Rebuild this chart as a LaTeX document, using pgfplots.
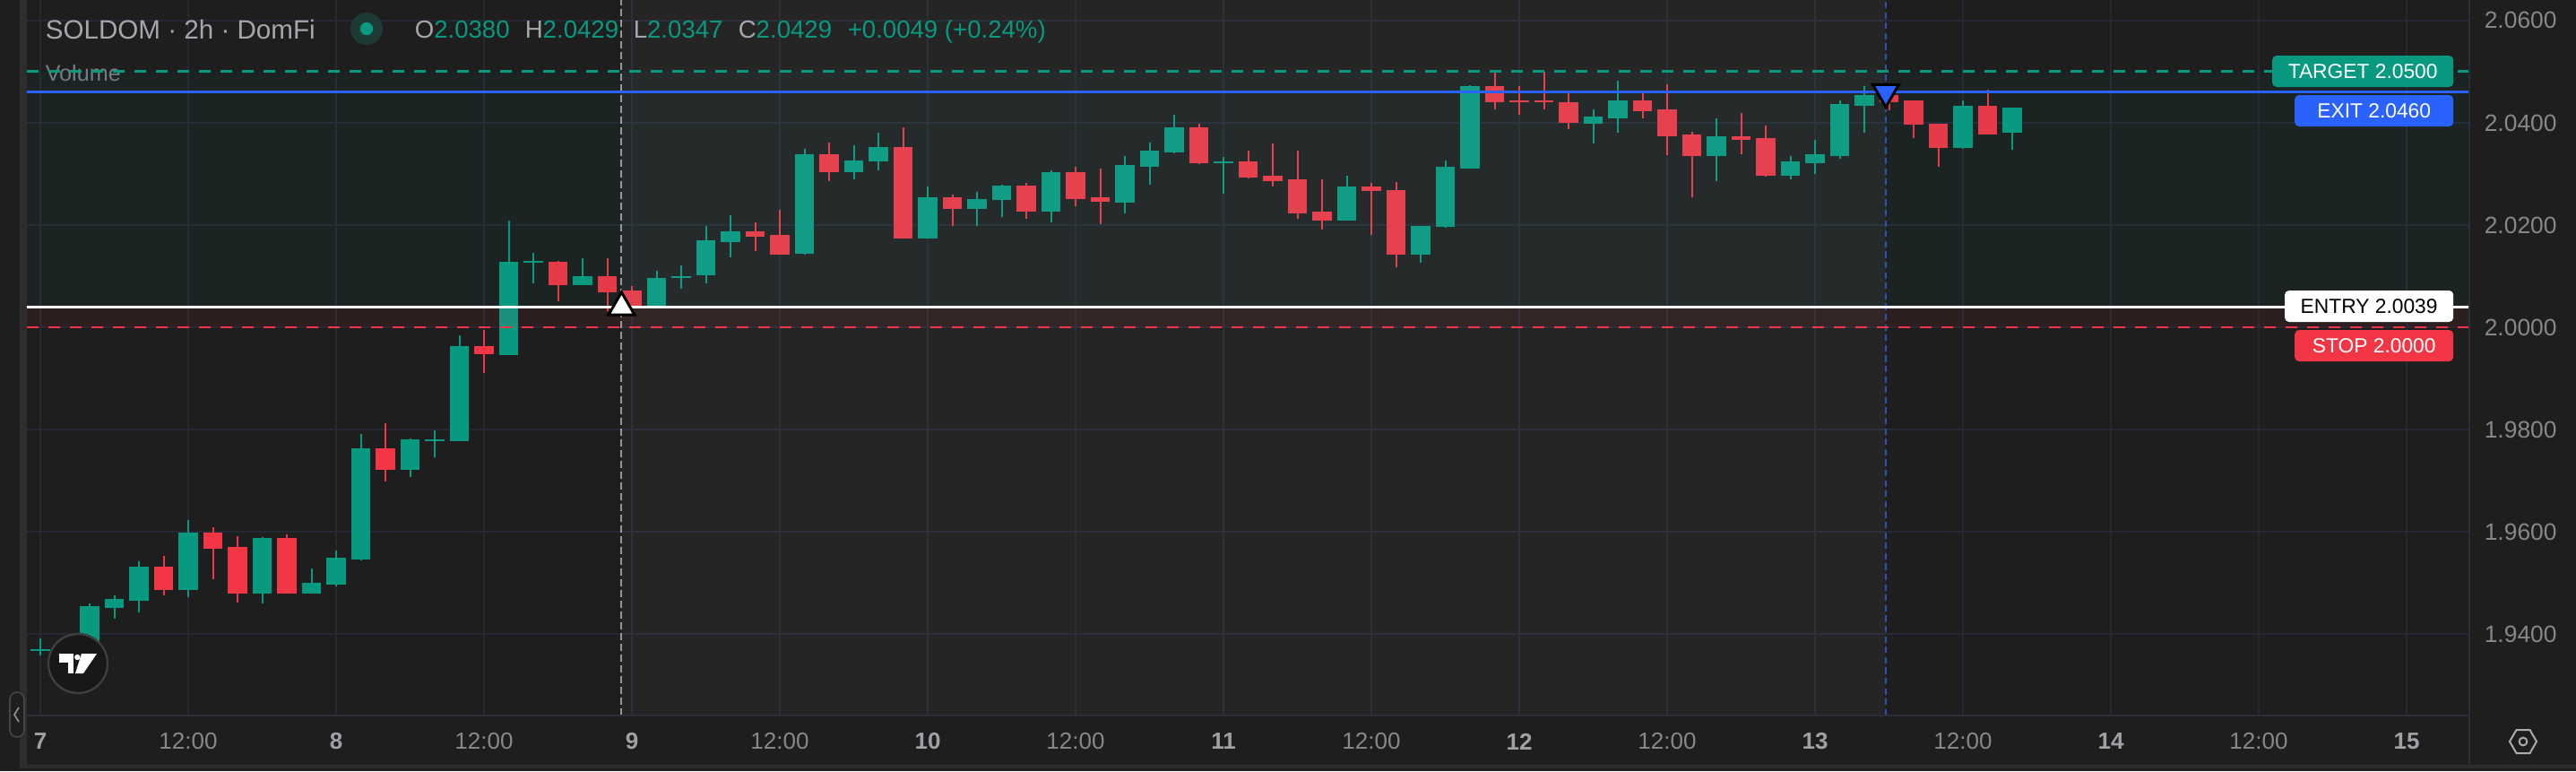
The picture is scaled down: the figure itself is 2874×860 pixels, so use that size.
\documentclass[border=0pt]{standalone}
\usepackage{fontspec}
\setmainfont{Liberation Sans}
\usepackage{pgfplots}
\pgfplotsset{compat=1.18}
\usepackage{pgfplotstable}

\definecolor{bg}{RGB}{30,30,30}
\definecolor{tvgreen}{RGB}{8,153,129}
\definecolor{tvred}{RGB}{242,54,69}
\definecolor{tvblue}{RGB}{41,98,255}
\definecolor{gridc}{RGB}{37,40,53}
\definecolor{axtext}{RGB}{135,135,140}
\definecolor{daytext}{RGB}{160,160,166}
\definecolor{hdr}{RGB}{165,167,173}
\definecolor{sepc}{RGB}{42,46,57}
\definecolor{barc}{RGB}{45,45,45}
\definecolor{vdash}{RGB}{150,150,155}
\definecolor{bdash}{RGB}{45,80,180}
\definecolor{halo}{RGB}{30,58,52}
\definecolor{voltext}{RGB}{120,123,134}
\definecolor{tabdraw}{RGB}{70,70,70}
\definecolor{tabchev}{RGB}{150,150,150}
\definecolor{logofill}{RGB}{24,24,24}
\definecolor{logoring}{RGB}{62,62,62}
\definecolor{gearc}{RGB}{170,170,175}

\pgfplotstableread{
i o h l c
0 1.9367 1.9391 1.9358 1.9370
2 1.9362 1.9460 1.9355 1.9455
3 1.9452 1.9476 1.9430 1.9469
4 1.9465 1.9542 1.9442 1.9532
6 1.9487 1.9623 1.9472 1.9598
9 1.9480 1.9589 1.9460 1.9588
11 1.9480 1.9528 1.9479 1.9500
12 1.9497 1.9563 1.9493 1.9549
13 1.9546 1.9791 1.9544 1.9763
15 1.9722 1.9782 1.9707 1.9781
16 1.9778 1.9798 1.9746 1.9781
17 1.9778 1.9984 1.9777 1.9963
19 1.9946 2.0209 1.9945 2.0128
20 2.0127 2.0146 2.0086 2.0130
22 2.0083 2.0135 2.0082 2.0100
25 2.0043 2.0110 2.0040 2.0096
26 2.0097 2.0121 2.0075 2.0100
27 2.0102 2.0198 2.0086 2.0170
28 2.0167 2.0219 2.0136 2.0188
31 2.0143 2.0349 2.0142 2.0338
33 2.0304 2.0356 2.0289 2.0327
34 2.0324 2.0380 2.0307 2.0352
36 2.0174 2.0275 2.0173 2.0254
38 2.0231 2.0264 2.0199 2.0250
39 2.0249 2.0279 2.0216 2.0278
41 2.0227 2.0307 2.0206 2.0303
44 2.0244 2.0335 2.0223 2.0317
45 2.0314 2.0362 2.0279 2.0345
46 2.0342 2.0415 2.0341 2.0391
48 2.0321 2.0334 2.0261 2.0324
53 2.0209 2.0296 2.0208 2.0275
56 2.0143 2.0199 2.0126 2.0198
57 2.0196 2.0327 2.0195 2.0314
58 2.0311 2.0473 2.0310 2.0472
63 2.0399 2.0426 2.0360 2.0412
64 2.0409 2.0482 2.0381 2.0443
68 2.0335 2.0409 2.0286 2.0373
71 2.0296 2.0335 2.0289 2.0324
72 2.0321 2.0367 2.0300 2.0338
73 2.0335 2.0444 2.0329 2.0437
74 2.0434 2.0472 2.0381 2.0454
78 2.0350 2.0444 2.0349 2.0433
80 2.0380 2.0429 2.0347 2.0429
}\greentab

\pgfplotstableread{
i o h l c
1 1.9370 1.9380 1.9350 1.9362
5 1.9532 1.9553 1.9476 1.9487
7 1.9598 1.9609 1.9507 1.9567
8 1.9570 1.9591 1.9462 1.9480
10 1.9588 1.9595 1.9479 1.9480
14 1.9763 1.9812 1.9698 1.9722
18 1.9963 1.9995 1.9911 1.9947
21 2.0128 2.0130 2.0051 2.0083
23 2.0100 2.0135 2.0032 2.0069
24 2.0072 2.0081 2.0040 2.0043
29 2.0187 2.0206 2.0149 2.0177
30 2.0180 2.0230 2.0142 2.0143
32 2.0338 2.0362 2.0286 2.0304
35 2.0352 2.0391 2.0173 2.0174
37 2.0254 2.0260 2.0199 2.0231
40 2.0278 2.0282 2.0213 2.0227
42 2.0303 2.0314 2.0237 2.0251
43 2.0254 2.0310 2.0202 2.0246
47 2.0391 2.0398 2.0320 2.0321
49 2.0324 2.0345 2.0292 2.0293
50 2.0296 2.0360 2.0276 2.0286
51 2.0289 2.0345 2.0213 2.0223
52 2.0226 2.0289 2.0192 2.0209
54 2.0275 2.0282 2.0181 2.0266
55 2.0268 2.0285 2.0118 2.0143
59 2.0472 2.0500 2.0426 2.0441
60 2.0443 2.0472 2.0416 2.0440
61 2.0443 2.0499 2.0427 2.0440
62 2.0440 2.0459 2.0388 2.0399
65 2.0443 2.0459 2.0409 2.0423
66 2.0426 2.0475 2.0336 2.0374
67 2.0377 2.0383 2.0254 2.0335
69 2.0373 2.0419 2.0339 2.0367
70 2.0370 2.0395 2.0295 2.0296
75 2.0454 2.0455 2.0424 2.0441
76 2.0443 2.0444 2.0370 2.0396
77 2.0398 2.0399 2.0314 2.0350
79 2.0433 2.0465 2.0377 2.0378
}\redtab

\pgfplotsset{candle/.style={draw=none, mark=none, forget plot, error bars/.cd, y dir=both, y explicit, error mark=none}}

\begin{document}
\begin{tikzpicture}[x=0.25pt,y=-0.25pt]
% background
\fill[bg] (0,0) rectangle (2874,860);
\coordinate (axSW) at (30,798);
% volume label (under lines)
\node[anchor=base west, inner sep=0pt, text=voltext, font=\fontsize{6.3}{7}\selectfont] at (50,90) {Volume};

\begin{axis}[
  at={(axSW)}, anchor=south west,
  scale only axis, width=681.25pt, height=199.5pt,
  xmin=-0.5455, xmax=98.545, ymin=1.92406, ymax=2.06401,
  axis line style={draw=none},
  major tick length=0pt,
  xtick={0,6,...,96},
  xticklabels={\textcolor{daytext}{\textbf{7}},12:00,\textcolor{daytext}{\textbf{8}},12:00,\textcolor{daytext}{\textbf{9}},12:00,\textcolor{daytext}{\textbf{10}},12:00,\textcolor{daytext}{\textbf{11}},12:00,\textcolor{daytext}{\textbf{12}},12:00,\textcolor{daytext}{\textbf{13}},12:00,\textcolor{daytext}{\textbf{14}},12:00,\textcolor{daytext}{\textbf{15}}},
  ytick={1.94,1.96,1.98,2.00,2.02,2.04,2.06},
  yticklabels={1.9400,1.9600,1.9800,2.0000,2.0200,2.0400,2.0600},
  yticklabel pos=right,
  grid=major, grid style={gridc, line width=0.4pt},
  xticklabel style={anchor=center, inner sep=0pt, yshift=-7.25pt, text=axtext, font=\fontsize{6.5}{7}\selectfont},
  yticklabel style={anchor=west, inner sep=0pt, xshift=4pt, text=axtext, font=\fontsize{6.6}{7}\selectfont},
]
% wicks
\addplot[candle, error bar style={draw=tvgreen, line width=0.5pt}]
  table[x=i, y expr={(\thisrow{h}+\thisrow{l})/2}, y error expr={(\thisrow{h}-\thisrow{l})/2}] {\greentab};
\addplot[candle, error bar style={draw=tvred, line width=0.5pt}]
  table[x=i, y expr={(\thisrow{h}+\thisrow{l})/2}, y error expr={(\thisrow{h}-\thisrow{l})/2}] {\redtab};
% bodies
\addplot[candle, error bar style={draw=tvgreen, line width=5.4pt}]
  table[x=i, y expr={(\thisrow{o}+\thisrow{c})/2}, y error expr={abs(\thisrow{c}-\thisrow{o})/2}] {\greentab};
\addplot[candle, error bar style={draw=tvred, line width=5.4pt}]
  table[x=i, y expr={(\thisrow{o}+\thisrow{c})/2}, y error expr={abs(\thisrow{c}-\thisrow{o})/2}] {\redtab};

% overlays
\fill[tvgreen, fill opacity=0.055] (axis cs:-0.5455,2.0039) rectangle (axis cs:98.545,2.05);
\fill[tvred, fill opacity=0.075] (axis cs:-0.5455,2.0) rectangle (axis cs:98.545,2.0039);
\fill[white, fill opacity=0.035] (axis cs:23.58,1.92406) rectangle (axis cs:74.87,2.06401);

% vertical dashed lines
\addplot[vdash, line width=0.5pt, dash pattern=on 2pt off 1pt, forget plot] coordinates {(23.58,1.92406) (23.58,2.06401)};
\addplot[bdash, line width=0.5pt, dash pattern=on 1.8pt off 1.1pt, forget plot] coordinates {(74.87,1.92406) (74.87,2.06401)};

% level lines
\addplot[tvgreen, line width=0.7pt, dash pattern=on 3.2pt off 2.8pt, forget plot] coordinates {(-0.5455,2.05) (98.545,2.05)};
\addplot[tvblue, line width=0.75pt, forget plot] coordinates {(-0.5455,2.046) (98.545,2.046)};
\addplot[white, line width=0.75pt, forget plot] coordinates {(-0.5455,2.0039) (98.545,2.0039)};
\addplot[tvred, line width=0.7pt, dash pattern=on 3.2pt off 2.8pt, forget plot] coordinates {(-0.5455,2.0) (98.545,2.0)};

% entry / exit markers
\addplot[only marks, mark=triangle*, mark size=4.2pt, mark options={fill=white, draw=black, line width=0.75pt}, forget plot] coordinates {(23.58,2.0039)};
\addplot[only marks, mark=triangle*, mark size=4.2pt, mark options={rotate=180, fill=tvblue, draw=black, line width=0.75pt}, forget plot] coordinates {(74.87,2.046)};
\end{axis}

% frame lines
\draw[sepc, line width=0.4pt] (2755,0) -- (2755,853);
\draw[sepc, line width=0.4pt] (30,798) -- (2755,798);
\fill[barc] (22,0) rectangle (30,857);
\fill[barc] (22,853) rectangle (2874,857);
% collapse tab
\draw[rounded corners=2pt, draw=tabdraw, fill=bg, line width=0.4pt] (11,772) rectangle (27,822);
\draw[tabchev, line width=0.4pt] (21,789) -- (16,797) -- (21,805);

% price level labels
\node[fill=tvgreen, text=white, rounded corners=1.2pt, anchor=east, minimum width=44.25pt, minimum height=8.75pt, inner xsep=4.4pt, inner ysep=0pt, font=\fontsize{5.7}{6}\selectfont] at (2738,79.5) {TARGET 2.0500};
\node[fill=tvblue, text=white, rounded corners=1.2pt, anchor=east, minimum width=44.25pt, minimum height=8.75pt, inner xsep=4.4pt, inner ysep=0pt, font=\fontsize{5.7}{6}\selectfont] at (2738,123.5) {EXIT 2.0460};
\node[fill=white, text=black, rounded corners=1.2pt, anchor=east, minimum width=44.25pt, minimum height=8.75pt, inner xsep=4.4pt, inner ysep=0pt, font=\fontsize{5.7}{6}\selectfont] at (2738,341.5) {ENTRY 2.0039};
\node[fill=tvred, text=white, rounded corners=1.2pt, anchor=east, minimum width=44.25pt, minimum height=8.75pt, inner xsep=4.4pt, inner ysep=0pt, font=\fontsize{5.7}{6}\selectfont] at (2738,385.5) {STOP 2.0000};

% header
\node[anchor=base west, inner sep=0pt, text=hdr, font=\fontsize{7.4}{8}\selectfont] at (50,43.3) {SOLDOM · 2h · DomFi};
\fill[halo] (409,32) circle[radius=4.5pt];
\fill[tvgreen] (409,32) circle[radius=1.8pt];
\node[anchor=base west, inner sep=0pt, font=\fontsize{6.9}{8}\selectfont] at (462,42.5) {\textcolor{hdr}{O}\textcolor{tvgreen}{2.0380}};
\node[anchor=base west, inner sep=0pt, font=\fontsize{6.9}{8}\selectfont] at (585,42.5) {\textcolor{hdr}{H}\textcolor{tvgreen}{2.0429}};
\node[anchor=base west, inner sep=0pt, font=\fontsize{6.9}{8}\selectfont] at (706,42.5) {\textcolor{hdr}{L}\textcolor{tvgreen}{2.0347}};
\node[anchor=base west, inner sep=0pt, font=\fontsize{6.9}{8}\selectfont] at (823,42.5) {\textcolor{hdr}{C}\textcolor{tvgreen}{2.0429}};
\node[anchor=base west, inner sep=0pt, font=\fontsize{6.9}{8}\selectfont, text=tvgreen] at (945,42.5) {+0.0049 (+0.24\%)};

% TradingView logo
\fill[logofill] (87,740) circle[radius=8.25pt];
\draw[logoring, line width=0.6pt] (87,740) circle[radius=8.25pt];
\fill[white] (66,729) rectangle (82,739);
\fill[white] (76,739) rectangle (82,751);
\fill[white] (86.3,733) circle[radius=0.8pt];
\fill[white] (91,729) -- (108,729) -- (93,751) -- (84,751) -- cycle;

% settings icon
\draw[gearc, line width=0.5pt] (2830,827) -- (2822.5,814) -- (2807.5,814) -- (2800,827) -- (2807.5,840) -- (2822.5,840) -- cycle;
\draw[gearc, line width=0.5pt] (2815,827) circle[radius=1.1pt];

\pgfresetboundingbox
\useasboundingbox (0,0) rectangle (2874,860);
\end{tikzpicture}
\end{document}
